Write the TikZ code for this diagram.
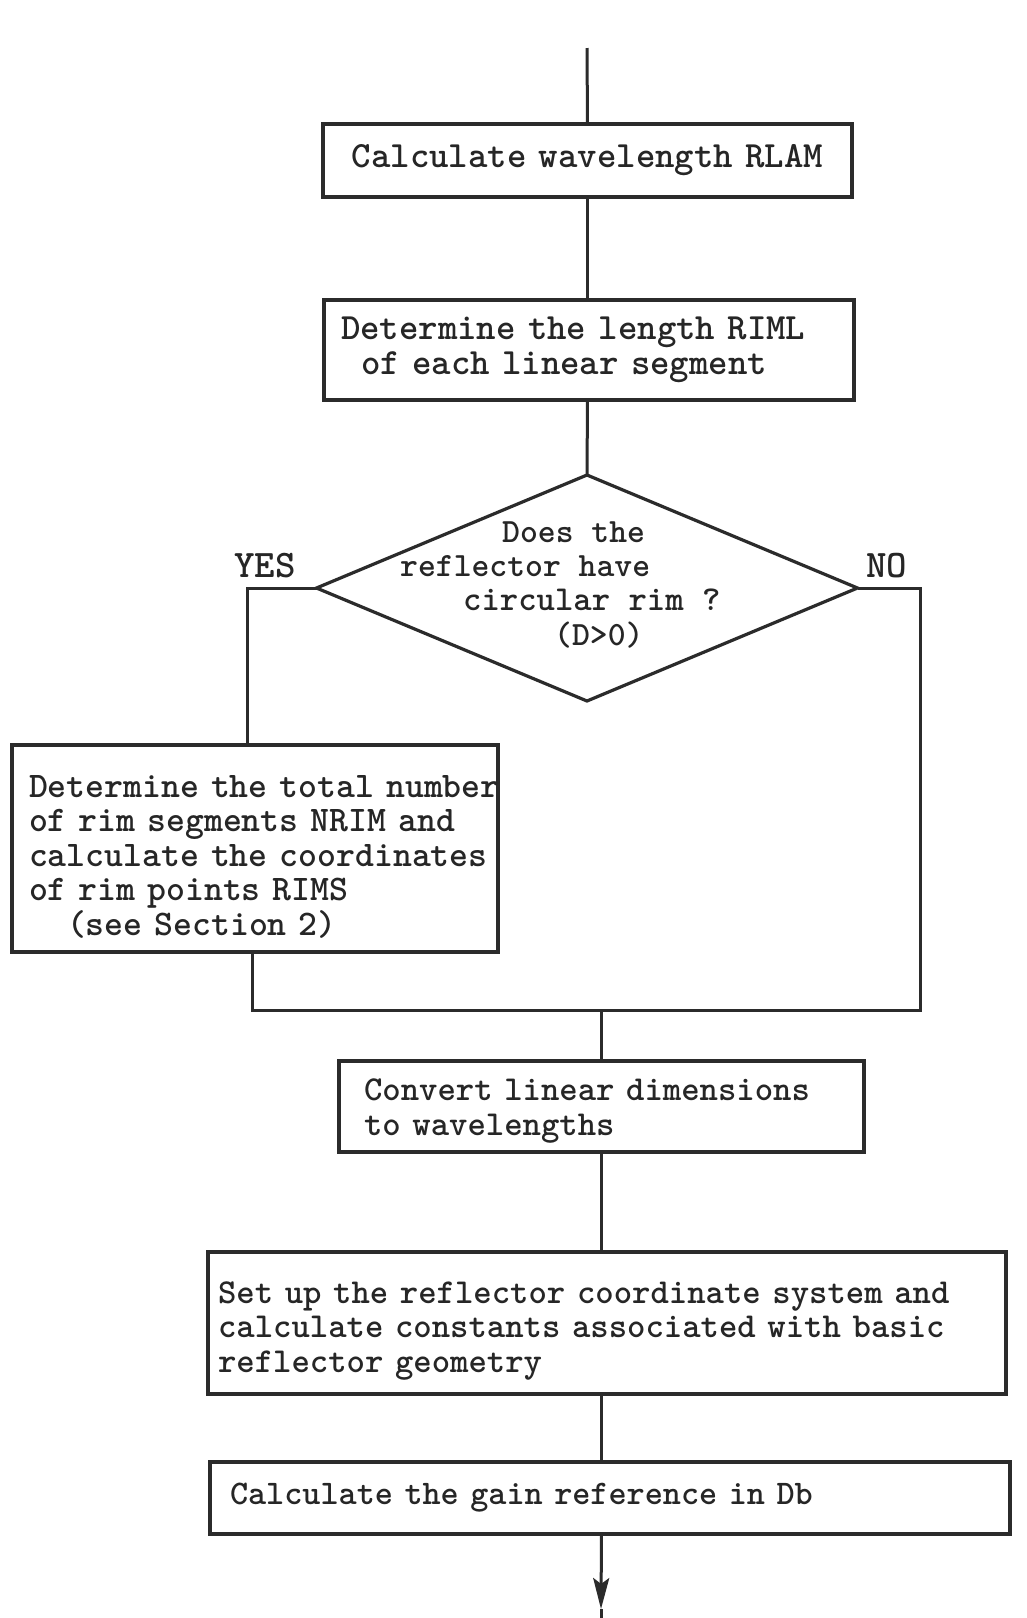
\documentclass[tikz,border=0pt]{standalone}
\usetikzlibrary{shapes.geometric,arrows.meta,calc}
\definecolor{ink}{HTML}{2B2B2B}
\definecolor{typeink}{HTML}{262626}
% invisible strut that makes the first line of a box taller
\newcommand{\firstlinestrut}[1]{\rule{0pt}{#1}}
\begin{document}
\begin{tikzpicture}[x=1pt,y=-1pt,
  tt/.style={font=\fontsize{#1}{34.5}\selectfont\ttfamily\bfseries, text=typeink},
  procbox/.style={draw=ink, line width=4.2pt, rectangle, anchor=north west,
    align=left, inner ysep=0pt, outer sep=0pt, text=typeink},
  decision/.style={draw=ink, line width=3.2pt, diamond, inner sep=0pt, outer sep=0pt},
  wire/.style={draw=ink, line width=3pt},
  lbl/.style={tt=#1, anchor=base west, inner sep=0pt}]

% page
\fill[white] (0,0) rectangle (1027,1618);
\useasboundingbox (0,0) rectangle (1027,1618);

% process boxes
\node[procbox, tt=37, align=center, minimum width=529pt, minimum height=73pt,
  text width=489pt, inner xsep=20pt] (b1) at (323,124) {Calculate wavelength RLAM};

\node[procbox, tt=37, minimum width=530pt, minimum height=100pt,
  text width=496pt, inner xsep=17pt] (b2) at (324,300)
  {Determine the length RIML\\\hspace*{20pt}of each linear segment};

% decision
\node[decision, minimum width=541pt, minimum height=226pt] (dec) at (587,588) {};
\node[lbl=34] (q1) at (502,542) {Does the};
\node[lbl=34] (q2) at (400,576) {reflector have};
\node[lbl=35] (q3) at (463,610) {circular rim ?};
\node[lbl=34] (q4) at (554,645) {(D>0)};
\node[lbl=39] (yes) at (234,577) {YES};
\node[lbl=39] (no) at (866,577) {NO};

\node[procbox, tt=36, minimum width=486pt, minimum height=207pt,
  text width=452pt, inner xsep=17pt] (b3) at (12,745)
  {\firstlinestrut{38pt}\mbox{Determine the total number}\\\mbox{of rim segments NRIM and}\\\mbox{calculate the coordinates}\\\mbox{of rim points RIMS}\\\hspace*{38pt}\mbox{(see Section 2)}};

\node[procbox, tt=35, minimum width=525pt, minimum height=91pt,
  text width=475pt, inner xsep=25pt] (b4) at (339,1061)
  {\firstlinestrut{31pt}Convert linear dimensions\\to wavelengths};

\node[procbox, tt=35, minimum width=798pt, minimum height=142pt,
  text width=778pt, inner xsep=10pt] (b5) at (208,1252)
  {\firstlinestrut{37pt}\mbox{Set up the reflector coordinate system and}\\\mbox{calculate constants associated with basic}\\reflector geometry};

\node[procbox, tt=34.5, minimum width=800pt, minimum height=72pt,
  text width=760pt, inner xsep=20pt] (b6) at (210,1462)
  {Calculate the gain reference in Db};

% connectors
\coordinate (entry) at (587,48);
\coordinate (yescol) at (247,0);
\coordinate (jl) at (252,1010);
\coordinate (jr) at (920,1010);
\coordinate (tip) at (601,1609);
\coordinate (exit) at (601,1618);

\draw[wire] (entry) -- (b1.north);
\draw[wire] (b1.south) -- (b2.north -| b1.south);
\draw[wire] (b2.south -| b1.south) -- (dec.north);
\draw[wire] (dec.west) -| (b3.north -| yescol);
\draw[wire] (b3.south -| jl) -- (jl) -- (jr) |- (dec.east);
\draw[wire] (b4.north |- jl) -- (b4.north);
\draw[wire] (b4.south) -- (b5.north -| b4.south);
\draw[wire] (b5.south -| b4.south) -- (b6.north -| b4.south);
\draw[wire, -{Stealth[length=31pt,width=16pt,inset=6pt]}] (b6.south -| b4.south) -- (tip);
\draw[wire] (tip) -- (exit);
\end{tikzpicture}
\end{document}
